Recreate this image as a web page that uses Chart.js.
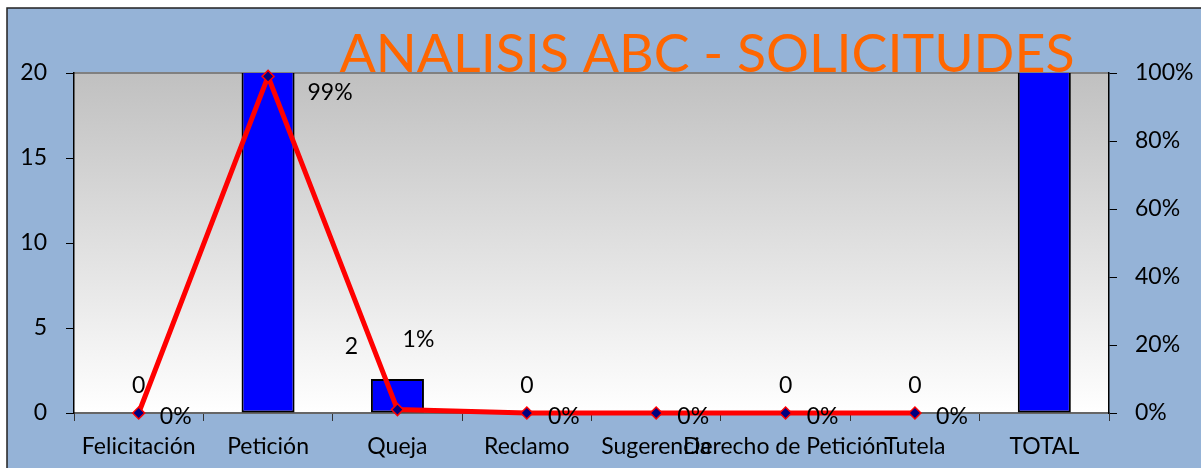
<!DOCTYPE html>
<html>
<head>
<meta charset="utf-8">
<script src="https://cdn.jsdelivr.net/npm/chart.js@4.4.0/dist/chart.umd.min.js"></script>
<style>
  html, body { margin: 0; padding: 0; background: #ffffff; }
  #wrap { width: 1201px; height: 468px; }
</style>
</head>
<body>
<div id="wrap"><canvas id="myChart" width="1201" height="468"></canvas></div>
<script>
// data
const categories = ['Felicitación', 'Petición', 'Queja', 'Reclamo', 'Sugerencia', 'Derecho de Petición', 'Tutela', 'TOTAL'];
const cantidad = [0, 198, 2, 0, 0, 0, 0, 200];
const porcentaje = [0, 0.99, 0.01, 0, 0, 0, 0, null];
const cantidadLabels = ['0', '', '2', '0', '', '0', '0', ''];
const porcentajeLabels = ['0%', '99%', '1%', '0%', '0%', '0%', '0%', ''];
const leftTicks = [0, 5, 10, 15, 20];
const rightTicks = [0, 20, 40, 60, 80, 100];
const title = 'ANALISIS ABC - SOLICITUDES';

const FONT = 'Lato, "Open Sans", sans-serif';
const FS = 23;

// background, plot area gradient, labels and title
const decor = {
    id: 'decor',
    beforeDraw(chart) {
        const ctx = chart.ctx;
        const a = chart.chartArea;
        ctx.save();
        ctx.fillStyle = '#ffffff';
        ctx.fillRect(0, 0, chart.width, chart.height);
        ctx.fillStyle = '#95B3D7';
        ctx.fillRect(7, 8, chart.width - 7, chart.height - 8);
        ctx.strokeStyle = '#222';
        ctx.lineWidth = 1.5;
        ctx.beginPath();
        ctx.moveTo(7, chart.height);
        ctx.lineTo(7, 8);
        ctx.lineTo(chart.width, 8);
        ctx.stroke();
        let g = ctx.createLinearGradient(0, a.top, 0, a.bottom);
        g.addColorStop(0, '#C0C0C0');
        g.addColorStop(1, '#FFFFFF');
        ctx.fillStyle = g;
        ctx.fillRect(a.left, a.top, a.right - a.left, a.bottom - a.top);
        ctx.strokeStyle = '#808080';
        ctx.lineWidth = 2;
        ctx.beginPath();
        ctx.moveTo(a.left, a.top);
        ctx.lineTo(a.right, a.top);
        ctx.stroke();
        ctx.restore();
    },
    afterDraw(chart) {
        const ctx = chart.ctx;
        ctx.save();
        ctx.font = FS + 'px ' + FONT;
        ctx.fillStyle = '#000';
        ctx.textAlign = 'center';
        ctx.textBaseline = 'middle';
        const bars = chart.getDatasetMeta(1).data;
        bars.forEach((b, i) => {
            if (!cantidadLabels[i]) return;
            let dx = 0, dy = -27;
            if (i == 2) { dx = -46; dy = -32; }
            ctx.fillText(cantidadLabels[i], b.x + dx, b.y + dy);
        });
        const pts = chart.getDatasetMeta(0).data;
        pts.forEach((p, i) => {
            if (!porcentajeLabels[i]) return;
            let dx = 37, dy = 4;
            if (i == 1) { dx = 62; dy = 16; }
            if (i == 2) { dx = 21; dy = -70; }
            ctx.fillText(porcentajeLabels[i], p.x + dx, p.y + dy);
        });
        ctx.font = '52px ' + FONT;
        ctx.fillStyle = '#FF6600';
        const w = ctx.measureText(title).width;
        ctx.translate(707, 55);
        ctx.scale(735 / w, 1);
        ctx.fillText(title, 0, 0);
        ctx.restore();
    }
};

const ctx = document.getElementById('myChart');

new Chart(ctx, {
    data: {
        labels: categories,
        datasets: [{
            type: 'line',
            label: 'Porcentaje',
            data: porcentaje,
            yAxisID: 'y1',
            borderColor: '#FF0000',
            borderWidth: 5,
            pointStyle: 'rectRot',
            pointRadius: 6,
            pointBackgroundColor: '#000080',
            pointBorderColor: '#FF0000',
            pointBorderWidth: 1.5,
            tension: 0,
            clip: false,
            order: 0
        },
        {
            type: 'bar',
            label: 'Cantidad',
            data: cantidad,
            yAxisID: 'y',
            backgroundColor: '#0000FF',
            borderColor: '#000000',
            borderWidth: 2,
            borderSkipped: false,
            categoryPercentage: 0.82,
            barPercentage: 0.5,
            order: 1
        }
        ],
    },
    options: {
        responsive: false,
        animation: false,
        layout: { padding: { top: 73, left: 0, right: 0, bottom: 0 } },
        plugins: {
            legend: { display: false },
            tooltip: { enabled: false }
        },
        scales: {
            x: {
                offset: true,
                grid: {
                    offset: true,
                    drawOnChartArea: false,
                    drawTicks: true,
                    tickLength: 8,
                    color: '#333'
                },
                border: { color: '#666', width: 2 },
                ticks: {
                    font: { family: FONT, size: FS },
                    color: '#000',
                    padding: 12,
                    maxRotation: 0,
                    autoSkip: false
                },
                afterFit(scale) { scale.height = 55; }
            },
            y: {
                position: 'left',
                min: 0,
                max: 20,
                afterBuildTicks(scale) { scale.ticks = leftTicks.map(v => ({ value: v })); },
                grid: { drawOnChartArea: false, tickLength: 8, color: '#000' },
                border: { color: '#000', width: 1.5 },
                ticks: {
                    font: { family: FONT, size: FS },
                    color: '#000',
                    padding: 19
                },
                afterFit(scale) { scale.width = 74; }
            },
            y1: {
                position: 'right',
                min: 0,
                max: 1,
                afterBuildTicks(scale) { scale.ticks = rightTicks.map(v => ({ value: v / 100 })); },
                grid: { drawOnChartArea: false, tickLength: 8, color: '#000' },
                border: { color: '#000', width: 1.5 },
                ticks: {
                    font: { family: FONT, size: FS },
                    color: '#000',
                    padding: 18,
                    callback: v => Math.round(v * 100) + '%'
                },
                afterFit(scale) { scale.width = 92; }
            }
        }
    },
    plugins: [decor]
});
</script>
</body>
</html>
